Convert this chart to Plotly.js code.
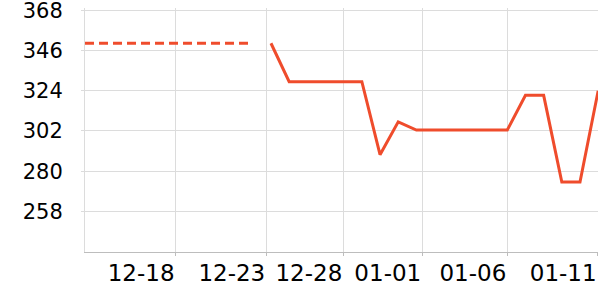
<!DOCTYPE html>
<html>
<head>
<meta charset="utf-8">
<script src="https://cdn.plot.ly/plotly-3.0.1.min.js"></script>
<style>html,body{margin:0;padding:0;background:#fff}#chart{width:600px;height:300px}</style>
</head>
<body>
<div id="chart"></div>
<script>
// Dashed (earlier) series
const dashX = [0, 1, 2, 3, 4, 5, 6, 7, 8, 9];
const dashY = [350, 350, 350, 350, 350, 350, 350, 350, 350, 350];
// Solid series
const solidX = [10.23, 11.23, 12.23, 13.23, 14.23, 15.23, 16.23, 17.23, 18.23, 19.23,
                20.23, 21.23, 22.23, 23.23, 24.23, 25.23, 26.23, 27.23, 28.23];
const solidY = [350, 329, 329, 329, 329, 329, 289, 307, 302.5, 302.5,
                302.5, 302.5, 302.5, 302.5, 321.5, 321.5, 274, 274, 324];
// Axis ticks
const xTickVals = [4.98, 9.97, 14.21, 18.55, 23.23, 28.2];
const xTickText = ['12-18', '12-23', '12-28', '01-01', '01-06', '01-11'];
const yTickVals = [258, 280, 302, 324, 346, 368];

const color = '#ef4c2c';
const traces = [
  {x: dashX, y: dashY, type: 'scatter', mode: 'lines',
   line: {color: color, width: 3, dash: '9px,5px'}, hoverinfo: 'skip'},
  {x: solidX, y: solidY, type: 'scatter', mode: 'lines',
   line: {color: color, width: 3}, hoverinfo: 'skip'}
];
const layout = {
  width: 600, height: 300,
  margin: {l: 85, r: 2, t: 8, b: 48},
  paper_bgcolor: '#fff', plot_bgcolor: '#fff',
  showlegend: false,
  font: {family: 'DejaVu Sans', color: '#000'},
  xaxis: {
    type: 'linear', range: [0, 28.22],
    tickmode: 'array', tickvals: xTickVals, ticktext: xTickText,
    ticklabelposition: 'outside left',
    ticklabeloverflow: 'allow',
    tickfont: {size: 23, family: 'DejaVu Sans', color: '#000'},
    showgrid: true, gridcolor: '#dcdcdc', gridwidth: 1,
    showline: true, linecolor: '#bdbdbd', linewidth: 1,
    ticks: 'outside', ticklen: 3, tickcolor: '#bdbdbd',
    zeroline: false
  },
  yaxis: {
    range: [235.75, 369.3],
    tickmode: 'array', tickvals: yTickVals,
    ticklabeloverflow: 'allow',
    tickfont: {size: 21, family: 'DejaVu Sans', color: '#000'},
    showgrid: true, gridcolor: '#dcdcdc', gridwidth: 1,
    showline: true, linecolor: '#dcdcdc', linewidth: 1,
    ticks: 'outside', ticklen: 3, tickcolor: '#dcdcdc',
    ticklabelstandoff: 14,
    zeroline: false
  }
};
Plotly.newPlot('chart', traces, layout, {staticPlot: true, displayModeBar: false});
</script>
</body>
</html>
